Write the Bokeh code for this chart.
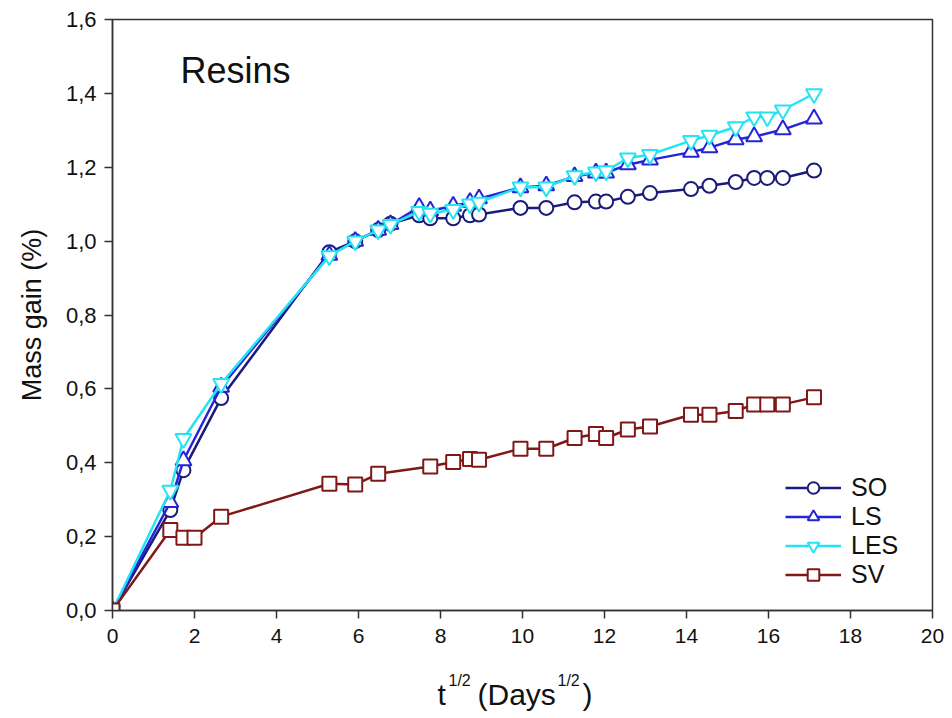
from bokeh.plotting import figure
from bokeh.layouts import column
from bokeh.models import Range1d, FixedTicker, Label, Legend, LegendItem
from bokeh.embed import file_html
from bokeh.resources import INLINE

# --- data ---
so_x = [0, 1.41, 1.73, 2.65, 5.29, 5.92, 6.48, 6.78, 7.48, 7.75, 8.31, 8.72, 8.94, 9.95, 10.58, 11.27, 11.79, 12.04, 12.57, 13.11, 14.11, 14.56, 15.2, 15.65, 15.97, 16.35, 17.11]
so_y = [0, 0.272, 0.38, 0.575, 0.97, 1.0, 1.03, 1.047, 1.07, 1.062, 1.062, 1.07, 1.072, 1.09, 1.09, 1.105, 1.107, 1.107, 1.12, 1.13, 1.141, 1.15, 1.16, 1.171, 1.171, 1.171, 1.191]

ls_x = [0, 1.41, 1.73, 2.65, 5.29, 5.92, 6.48, 6.78, 7.48, 7.75, 8.31, 8.72, 8.94, 9.95, 10.58, 11.27, 11.79, 12.04, 12.57, 13.11, 14.11, 14.56, 15.2, 15.65, 16.35, 17.11]
ls_y = [0, 0.293, 0.406, 0.605, 0.962, 1.0, 1.03, 1.045, 1.092, 1.082, 1.095, 1.105, 1.115, 1.145, 1.15, 1.175, 1.185, 1.185, 1.207, 1.22, 1.241, 1.253, 1.275, 1.283, 1.302, 1.331]

les_x = [0, 1.41, 1.73, 2.65, 5.29, 5.92, 6.48, 6.78, 7.48, 7.75, 8.31, 8.72, 8.94, 9.95, 10.58, 11.27, 11.79, 12.04, 12.57, 13.11, 14.11, 14.56, 15.2, 15.65, 15.97, 16.35, 17.11]
les_y = [0, 0.325, 0.465, 0.614, 0.96, 1.0, 1.03, 1.045, 1.08, 1.075, 1.085, 1.1, 1.105, 1.146, 1.146, 1.177, 1.187, 1.19, 1.225, 1.234, 1.272, 1.286, 1.309, 1.336, 1.336, 1.355, 1.399]

sv_x = [0, 1.41, 1.73, 2.0, 2.65, 5.29, 5.92, 6.48, 7.75, 8.31, 8.72, 8.94, 9.95, 10.58, 11.27, 11.79, 12.04, 12.57, 13.11, 14.11, 14.56, 15.2, 15.65, 15.97, 16.35, 17.11]
sv_y = [0, 0.218, 0.197, 0.197, 0.254, 0.343, 0.341, 0.37, 0.39, 0.402, 0.41, 0.408, 0.438, 0.438, 0.467, 0.478, 0.467, 0.49, 0.498, 0.53, 0.53, 0.54, 0.558, 0.558, 0.558, 0.577]

x_ticks = [0, 2, 4, 6, 8, 10, 12, 14, 16, 18, 20]
y_ticks = [0.0, 0.2, 0.4, 0.6, 0.8, 1.0, 1.2, 1.4, 1.6]
y_tick_labels = ["0,0", "0,2", "0,4", "0,6", "0,8", "1,0", "1,2", "1,4", "1,6"]

series = [
    ("SO", so_x, so_y, "circle", "#1b1b7a", 14),
    ("LS", ls_x, ls_y, "triangle", "#2424d8", 16),
    ("LES", les_x, les_y, "inverted_triangle", "#22e4f2", 16),
    ("SV", sv_x, sv_y, "square", "#801818", 14),
]

FONT = "Liberation Sans"
INK = "#111111"

p = figure(width=952, height=665, output_backend="svg", toolbar_location=None,
           x_range=Range1d(0, 20), y_range=Range1d(0, 1.6),
           min_border_left=112, min_border_right=20, min_border_top=19, min_border_bottom=55)
p.xgrid.visible = False
p.ygrid.visible = False
p.outline_line_color = "#333333"
p.outline_line_width = 1.5
p.background_fill_color = "white"
p.border_fill_color = "white"

for ax in (p.xaxis[0], p.yaxis[0]):
    ax.axis_line_color = "#333333"
    ax.axis_line_width = 1.5
    ax.major_tick_line_color = "#333333"
    ax.major_tick_line_width = 1.5
    ax.major_tick_out = 8
    ax.major_tick_in = 0
    ax.minor_tick_line_color = None
    ax.major_label_text_font = FONT
    ax.major_label_text_color = INK

p.xaxis[0].ticker = FixedTicker(ticks=x_ticks)
p.xaxis[0].major_label_text_font_size = "21px"
p.xaxis[0].major_label_standoff = 10
p.yaxis[0].ticker = FixedTicker(ticks=y_ticks)
p.yaxis[0].major_label_overrides = {t: l for t, l in zip(y_ticks, y_tick_labels)}
p.yaxis[0].major_label_text_font_size = "22px"
p.yaxis[0].major_label_standoff = 8
p.yaxis[0].axis_label = "Mass gain (%)"
p.yaxis[0].axis_label_text_font = FONT
p.yaxis[0].axis_label_text_font_size = "27px"
p.yaxis[0].axis_label_text_font_style = "normal"
p.yaxis[0].axis_label_text_color = INK
p.yaxis[0].axis_label_standoff = 16

items = []
for name, xs, ys, marker, color, size in series:
    ln = p.line(xs, ys, line_color=color, line_width=2.5)
    sc = p.scatter(xs, ys, marker=marker, size=size, fill_color="white",
                   line_color=color, line_width=2)
    items.append(LegendItem(label=name, renderers=[ln, sc]))

legend = Legend(items=items, location=(673, 21), padding=0, margin=0, spacing=0,
                glyph_width=56, glyph_height=29, label_height=29,
                label_text_font=FONT, label_text_font_size="25px",
                label_text_line_height=1.05,
                label_text_color=INK, label_standoff=10,
                border_line_color=None, background_fill_alpha=0)
p.add_layout(legend, "center")

# title inside plot
p.add_layout(Label(x=68, y=540, x_units="screen", y_units="screen", text="Resins",
                   text_font=FONT, text_font_size="36px", text_color=INK,
                   text_baseline="alphabetic"))

# x-axis label strip (with superscripts); frame aligned with main plot frame
p2 = figure(width=952, height=53, output_backend="svg", toolbar_location=None,
            x_range=Range1d(0, 820), y_range=Range1d(0, 53),
            x_axis_location=None, y_axis_location=None,
            min_border_left=0, min_border_right=0, min_border_top=0, min_border_bottom=0)
p2.xgrid.visible = False
p2.ygrid.visible = False
p2.outline_line_color = None
p2.border_fill_color = "white"

OFF = 112
lab_parts = [
    (437 - OFF, 24, "t", "30px"),
    (448 - OFF, 38, "1/2", "16px"),
    (477 - OFF, 24, "(Days", "30px"),
    (557 - OFF, 38, "1/2", "16px"),
    (582 - OFF, 24, ")", "30px"),
]
for xx, yy, tt, fs in lab_parts:
    p2.add_layout(Label(x=xx, y=yy, x_units="screen", y_units="screen", text=tt,
                        text_font=FONT, text_font_size=fs, text_color=INK,
                        text_baseline="alphabetic"))

layout = column(p, p2, spacing=0)
open("out.html", "w").write(file_html(layout, INLINE))
